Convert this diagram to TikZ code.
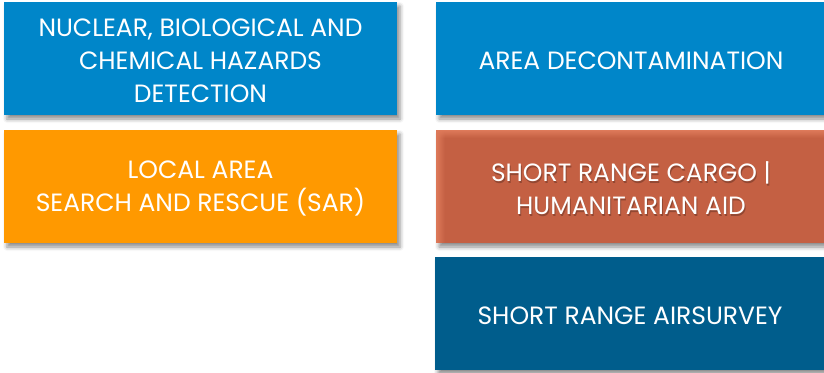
\documentclass[tikz,border=0pt]{standalone}
\usepackage{fontspec}
\setmainfont{Poppins}
\usetikzlibrary{shadows.blur,fadings}

\definecolor{tileblue}{RGB}{0,134,201}
\definecolor{tileorange}{RGB}{255,153,0}
\definecolor{tilerust}{RGB}{196,96,67}
\definecolor{tilerustlight}{RGB}{222,122,90}
\definecolor{tilenavy}{RGB}{0,93,140}

\tikzset{
  tile/.style={anchor=north west, inner sep=0pt, outer sep=0pt,
    minimum height=113pt,
    blur shadow={shadow xshift=3pt, shadow yshift=-4pt,
      shadow blur radius=4pt, shadow opacity=45}},
  lefttile/.style={tile, minimum width=393pt},
  righttile/.style={tile, minimum width=390pt},
  tiletext/.style={text=white, align=center, inner sep=0pt,
    font=\fontsize{25}{33}\selectfont}
}

\begin{document}
\begin{tikzpicture}[x=1pt,y=-1pt]
\useasboundingbox (0,0) rectangle (824,372);
% left column
\node[lefttile, fill=tileblue] (nbc) at (4,2) {};
\node[lefttile, fill=tileorange] (sar) at (4,130) {};
% right column
\node[righttile, fill=tileblue] (decon) at (436,2) {};
\node[righttile, fill=tilerust] (cargo) at (436,130) {};
\node[righttile, fill=tilenavy] (survey) at (435,257) {};
% soft light rim on the cargo tile
\fill[tilerustlight, path fading=east] (cargo.north west) rectangle ([xshift=9pt]cargo.south west);
\fill[tilerustlight, path fading=south] (cargo.north west) rectangle ([yshift=-8pt]cargo.north east);

\node[tiletext] (nbc-text) at ([yshift=-2.5pt]nbc.center)
  {NUCLEAR, BIOLOGICAL AND\\CHEMICAL HAZARDS\\DETECTION};
\node[tiletext] (sar-text) at ([yshift=-2pt]sar.center)
  {LOCAL AREA\\SEARCH AND RESCUE (SAR)};
\node[tiletext] (decon-text) at ([yshift=-2.5pt]decon.center)
  {AREA DECONTAMINATION};
\node[tiletext, text=black, opacity=0.25] (cargo-shade) at ([xshift=1pt,yshift=-3.5pt]cargo.center)
  {SHORT RANGE CARGO |\\HUMANITARIAN AID};
\node[tiletext] (cargo-text) at ([yshift=-2pt]cargo.center)
  {SHORT RANGE CARGO |\\HUMANITARIAN AID};
\node[tiletext] (survey-text) at ([yshift=-2.5pt]survey.center)
  {SHORT RANGE AIRSURVEY};
\end{tikzpicture}
\end{document}
